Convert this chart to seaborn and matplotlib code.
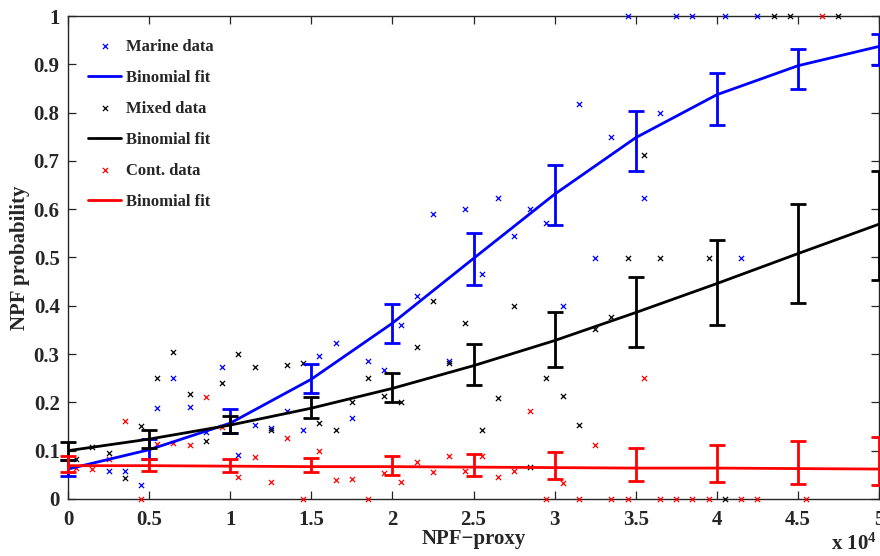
import numpy as np
import pandas as pd
import matplotlib
matplotlib.use("Agg")
import matplotlib.pyplot as plt
from matplotlib.ticker import FuncFormatter, MultipleLocator
import seaborn as sns

# ---------------------------------------------------------------
# data
# ---------------------------------------------------------------

marine_x = [2500, 3500, 4500, 5500, 6500, 7500, 8500, 9500, 10500, 11500,
            12500, 13500, 14500, 15500, 16500, 17500, 18500, 19500, 20500, 21500,
            22500, 23500, 24500, 25500, 26500, 27500, 28500, 29500, 30500, 31500,
            32500, 33500, 34500, 35500, 36500, 37500, 38500, 40500, 41500, 42500]
marine_y = [0.058, 0.058, 0.030, 0.188, 0.25, 0.19, 0.138, 0.273, 0.092, 0.154,
            0.148, 0.182, 0.143, 0.296, 0.322, 0.167, 0.286, 0.267, 0.36, 0.42,
            0.59, 0.286, 0.60, 0.466, 0.624, 0.545, 0.60, 0.571, 0.40, 0.817,
            0.50, 0.749, 1.0, 0.624, 0.80, 1.0, 1.0, 1.0, 0.5, 1.0]

mixed_x = [500, 1500, 2500, 3500, 4500, 5500, 6500, 7500, 8500, 9500,
           10500, 11500, 12500, 13500, 14500, 15500, 16500, 17500, 18500, 19500,
           20500, 21500, 22500, 23500, 24500, 25500, 26500, 27500, 28500, 29500,
           30500, 31500, 32500, 33500, 34500, 35500, 36500, 39500, 40500, 43500,
           44500, 47500]
mixed_y = [0.082, 0.107, 0.096, 0.043, 0.152, 0.25, 0.304, 0.217, 0.12, 0.24,
           0.30, 0.273, 0.143, 0.277, 0.281, 0.158, 0.143, 0.20, 0.25, 0.214,
           0.20, 0.315, 0.41, 0.281, 0.364, 0.143, 0.209, 0.40, 0.067, 0.25,
           0.214, 0.154, 0.353, 0.376, 0.5, 0.713, 0.5, 0.5, 0.0, 1.0,
           1.0, 1.0]

cont_x = [500, 1500, 2500, 3500, 4500, 5500, 6500, 7500, 8500, 9500,
          10500, 11500, 12500, 13500, 14500, 15500, 16500, 17500, 18500, 19500,
          20500, 21500, 22500, 23500, 24500, 25500, 26500, 27500, 28500, 29500,
          30500, 31500, 32500, 33500, 34500, 35500, 36500, 37500, 38500, 39500,
          41500, 42500, 45500, 46500]
cont_y = [0.064, 0.062, 0.083, 0.162, 0.0, 0.114, 0.116, 0.112, 0.211, 0.15,
          0.045, 0.087, 0.035, 0.126, 0.0, 0.10, 0.04, 0.041, 0.0, 0.054,
          0.036, 0.076, 0.056, 0.088, 0.059, 0.088, 0.046, 0.059, 0.182, 0.0,
          0.033, 0.0, 0.112, 0.0, 0.0, 0.25, 0.0, 0.0, 0.0, 0.0,
          0.0, 0.0, 0.0, 1.0]

# binomial fits and confidence bars
fit_x = [0, 5000, 10000, 15000, 20000, 25000, 30000, 35000, 40000, 45000, 50000]

marine_fit = [0.062, 0.102, 0.157, 0.248, 0.364, 0.498, 0.631, 0.748, 0.837, 0.897, 0.937]
marine_lo = [0.047, 0.083, 0.136, 0.220, 0.324, 0.444, 0.568, 0.680, 0.775, 0.848, 0.899]
marine_hi = [0.080, 0.124, 0.186, 0.279, 0.403, 0.550, 0.691, 0.804, 0.883, 0.932, 0.963]

mixed_fit = [0.100, 0.124, 0.153, 0.188, 0.229, 0.276, 0.328, 0.386, 0.446, 0.508, 0.569]
mixed_lo = [0.080, 0.105, 0.136, 0.167, 0.200, 0.236, 0.274, 0.315, 0.360, 0.405, 0.453]
mixed_hi = [0.119, 0.143, 0.172, 0.212, 0.260, 0.320, 0.388, 0.460, 0.536, 0.610, 0.680]

cont_fit = [0.069, 0.069, 0.068, 0.067, 0.067, 0.066, 0.065, 0.064, 0.064, 0.063, 0.062]
cont_lo = [0.056, 0.057, 0.056, 0.055, 0.050, 0.047, 0.042, 0.038, 0.035, 0.032, 0.028]
cont_hi = [0.089, 0.083, 0.083, 0.085, 0.088, 0.094, 0.098, 0.105, 0.112, 0.120, 0.129]

# ---------------------------------------------------------------
# style
# ---------------------------------------------------------------

sns.set_style("ticks")
plt.rcParams.update({
    "font.family": ["Liberation Serif", "DejaVu Serif"],
    "font.weight": "bold",
    "axes.labelweight": "bold",
    "mathtext.fontset": "custom",
    "mathtext.rm": "Liberation Serif:bold",
    "mathtext.default": "rm",
    "xtick.direction": "in",
    "ytick.direction": "in",
    "xtick.top": True,
    "ytick.right": True,
})

fig = plt.figure(figsize=(8.8, 5.56), dpi=100)
ax = fig.add_axes([68 / 880, 57 / 556, 811 / 880, 483 / 556])

series = [
    ("Marine data", marine_x, marine_y, marine_fit, marine_lo, marine_hi, "#0000ff"),
    ("Mixed data", mixed_x, mixed_y, mixed_fit, mixed_lo, mixed_hi, "#000000"),
    ("Cont. data", cont_x, cont_y, cont_fit, cont_lo, cont_hi, "#ff0000"),
]

for name, xs, ys, fit, lo, hi, col in series:
    pts = pd.DataFrame({"x": xs, "y": ys})
    sns.scatterplot(data=pts, x="x", y="y", marker="x", color=col, s=14,
                    linewidth=0.9, label=name, clip_on=False, zorder=3, ax=ax)
    fitdf = pd.DataFrame({"x": fit_x, "y": fit})
    sns.lineplot(data=fitdf, x="x", y="y", color=col, linewidth=2.0,
                 estimator=None, sort=False, label="Binomial fit", zorder=4, ax=ax)
    fit_a = np.array(fit)
    yerr = [fit_a - np.array(lo), np.array(hi) - fit_a]
    ax.errorbar(fit_x, fit, yerr=yerr, fmt="none", ecolor=col, elinewidth=2.0,
                capsize=5.5, capthick=2.0, clip_on=False, zorder=4)

ax.set_xlim(0, 50000)
ax.set_ylim(0, 1)
ax.xaxis.set_major_locator(MultipleLocator(5000))
ax.yaxis.set_major_locator(MultipleLocator(0.1))
ax.xaxis.set_major_formatter(FuncFormatter(lambda v, p: f"{v / 1e4:g}"))
ax.yaxis.set_major_formatter(FuncFormatter(lambda v, p: f"{v:g}"))
ax.tick_params(axis="both", which="major", length=6, width=0.9, labelsize=15)
ax.tick_params(axis="x", pad=8)
ax.tick_params(axis="y", pad=6)
for s in ax.spines.values():
    s.set_linewidth(1.0)

ax.set_xlabel("NPF\u2212proxy", fontsize=15, fontweight="bold", labelpad=-1)
ax.set_ylabel("NPF probability", fontsize=15, fontweight="bold", labelpad=3)
fig.text(0.996, 0.002, r"x 10$^{4}$", ha="right", va="bottom", fontsize=15,
         fontweight="bold")

ax.legend(loc="upper left", bbox_to_anchor=(0.002, 0.991), frameon=False,
          handlelength=2.0, handletextpad=0.3, labelspacing=0.9,
          borderaxespad=0.8, borderpad=0.3, scatterpoints=1,
          prop={"weight": "bold", "size": 12})

fig.savefig("out.png", dpi=100)
